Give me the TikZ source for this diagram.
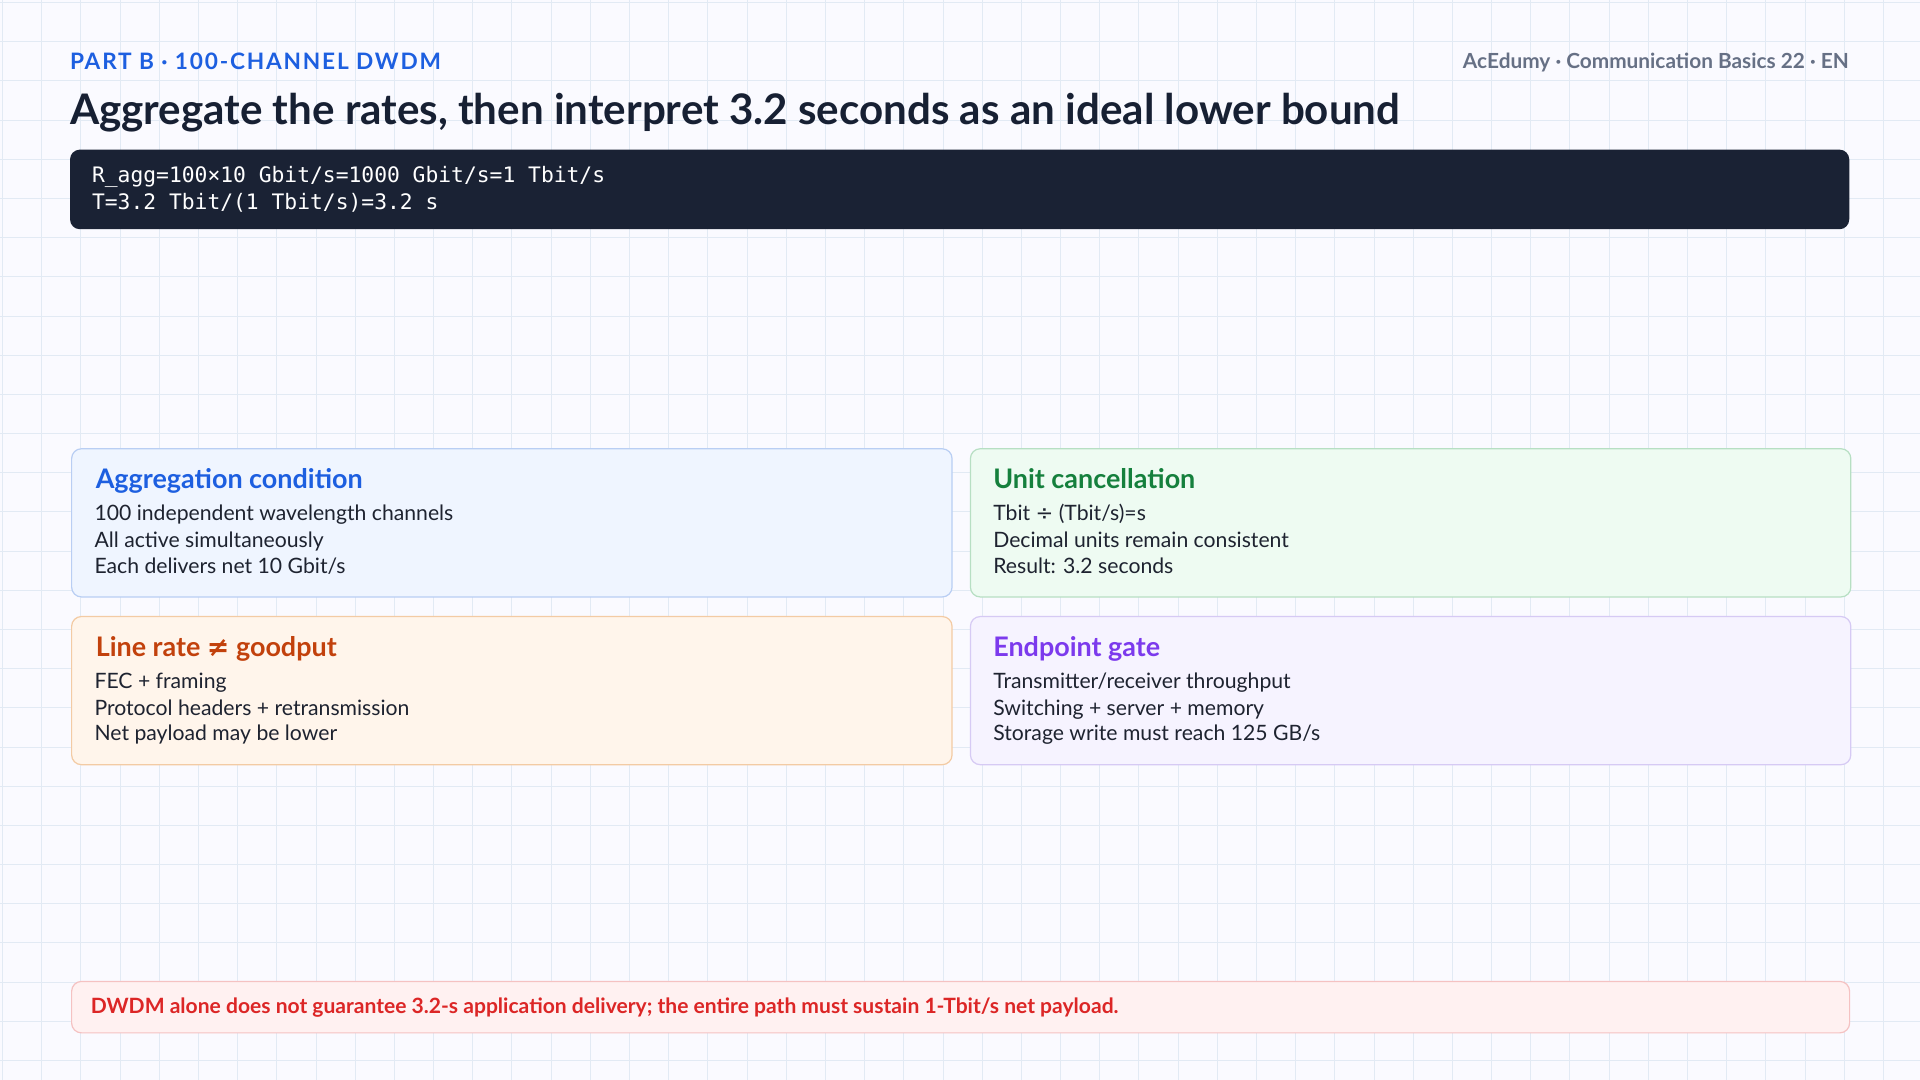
\documentclass[tikz,border=0pt]{standalone}
\usepackage{fontspec}
\setmainfont{Lato}
\setmonofont{DejaVu Sans Mono}
\newfontfamily\symf{DejaVu Sans}
\definecolor{gridc}{HTML}{E2EAF4}
\definecolor{codebg}{HTML}{1A2234}
\definecolor{bfill}{HTML}{EFF5FF}\definecolor{bline}{HTML}{B9CEF3}\definecolor{btxt}{HTML}{1D5FE0}
\definecolor{gfill}{HTML}{EEFBF2}\definecolor{gline}{HTML}{B7DFC3}\definecolor{gtxt}{HTML}{15803D}
\definecolor{ofill}{HTML}{FFF5EB}\definecolor{oline}{HTML}{F3CBA4}\definecolor{otxt}{HTML}{C2410C}
\definecolor{pfill}{HTML}{F6F3FF}\definecolor{pline}{HTML}{D6CAF4}\definecolor{ptxt}{HTML}{7C3AED}
\definecolor{rfill}{HTML}{FFF1F1}\definecolor{rline}{HTML}{F5C2C2}\definecolor{rtxt}{HTML}{DC2626}
\definecolor{body}{HTML}{1E2330}\definecolor{head}{HTML}{172033}\definecolor{meta}{HTML}{667085}
\tikzset{
 every node/.style={inner sep=0pt},
 card/.style={draw=#1line,fill=#1fill,rounded corners=8pt,line width=1pt,minimum width=719pt,minimum height=121pt,anchor=north west},
 ctitle/.style={anchor=base west,font=\fontsize{22}{24}\selectfont\bfseries,text=#1txt},
 cline/.style={anchor=base west,font=\fontsize{17.3}{19}\selectfont,text=body},
}
\begin{document}
\begin{tikzpicture}[x=1pt,y=-1pt]
\useasboundingbox (0,0) rectangle (1568,882);
\fill[white!98!blue] (0,0) rectangle (1568,882);
\foreach \x in {2,34,...,1568} \draw[gridc,line width=0.6pt] (\x,0)--(\x,882);
\foreach \y in {2,34,...,882} \draw[gridc,line width=0.6pt] (0,\y)--(1568,\y);
\node[anchor=base west,text=btxt,font=\fontsize{18.5}{20}\selectfont\bfseries\addfontfeature{LetterSpace=8}] (part) at (57,57) {PART B · 100-CHANNEL DWDM};
\node[anchor=base east,text=meta,font=\fontsize{17}{19}\selectfont\bfseries] (brand) at (1510,56) {AcEdumy · Communication Basics 22 · EN};
\node[anchor=base west,text=head,font=\fontsize{34.4}{38}\selectfont\bfseries] (title) at (57,102) {Aggregate the rates, then interpret 3.2 seconds as an ideal lower bound};
\node[fill=codebg,rounded corners=8pt,minimum width=1453pt,minimum height=65pt,anchor=north west] (code) at (57,122) {};
\node[anchor=base west,text=white,font=\ttfamily\fontsize{17.4}{19}\selectfont] (c1) at (75,149) {R\_agg=100×10 Gbit/s=1000 Gbit/s=1 Tbit/s};
\node[anchor=base west,text=white,font=\ttfamily\fontsize{17.4}{19}\selectfont] (c2) at (75,171) {T=3.2 Tbit/(1 Tbit/s)=3.2 s};
% cards
\node[card=b] (A) at (58,366) {};
\node[ctitle=b] at (78,399) {Aggregation condition};
\node[cline] at (77,425) {100 independent wavelength channels};
\node[cline] at (77,447) {All active simultaneously};
\node[cline] at (77,468) {Each delivers net 10 Gbit/s};
\node[card=g] (B) at (792,366) {};
\node[ctitle=g] at (811,399) {Unit cancellation};
\node[cline] at (811,425) {Tbit {\symf ÷} (Tbit/s)=s};
\node[cline] at (811,447) {Decimal units remain consistent};
\node[cline] at (811,468) {Result: 3.2 seconds};
\node[card=o] (C) at (58,503) {};
\node[ctitle=o] at (78,536) {Line rate {\symf\bfseries ≠} goodput};
\node[cline] at (77,562) {FEC + framing};
\node[cline] at (77,584) {Protocol headers + retransmission};
\node[cline] at (77,605) {Net payload may be lower};
\node[card=p] (D) at (792,503) {};
\node[ctitle=p] at (811,536) {Endpoint gate};
\node[cline] at (811,562) {Transmitter/receiver throughput};
\node[cline] at (811,584) {Switching + server + memory};
\node[cline] at (811,605) {Storage write must reach 125 GB/s};
\node[draw=rline,fill=rfill,rounded corners=8pt,line width=1pt,minimum width=1452pt,minimum height=42pt,anchor=north west] (note) at (58,801) {};
\node[anchor=base west,text=rtxt,font=\fontsize{17.2}{19}\selectfont\bfseries] at (74,828) {DWDM alone does not guarantee 3.2-s application delivery; the entire path must sustain 1-Tbit/s net payload.};
\end{tikzpicture}
\end{document}
